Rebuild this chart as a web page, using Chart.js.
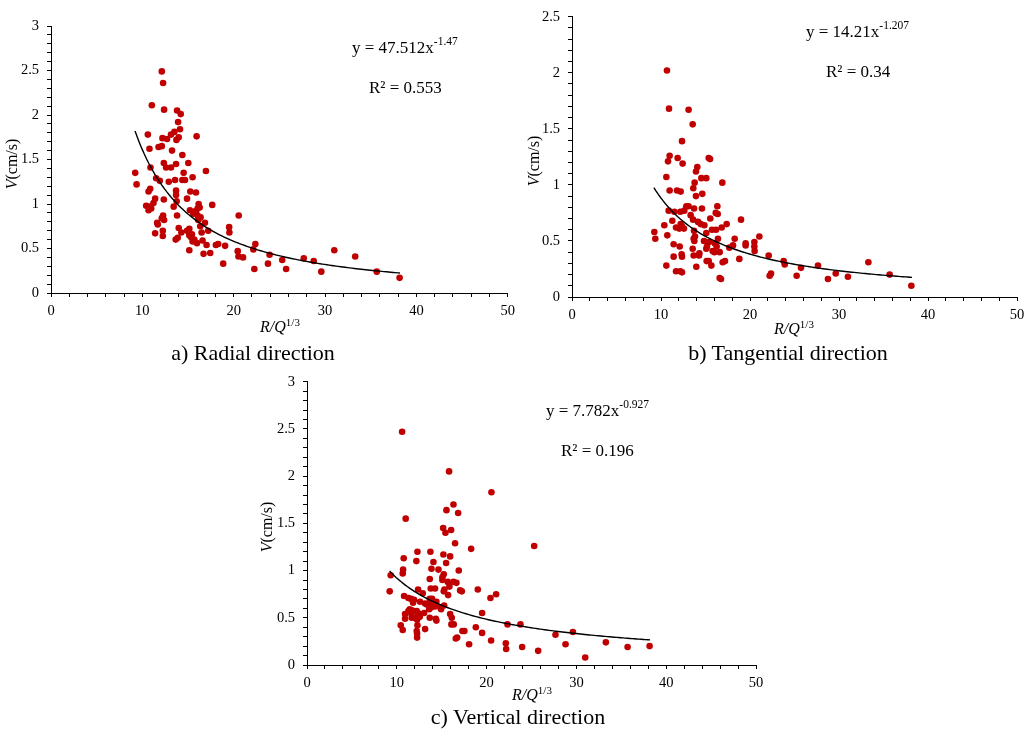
<!DOCTYPE html>
<html>
<head>
<meta charset="utf-8">
<script src="https://cdn.jsdelivr.net/npm/chart.js@4.4.0/dist/chart.umd.min.js"></script>
<style>
  body { margin: 0; background: #fff; }
  #page { position: relative; width: 1032px; height: 735px; overflow: hidden; font-family: 'Liberation Serif', 'Times New Roman', serif; }
  canvas { position: absolute; }
  .cap { position: absolute; font-size: 22px; line-height: 22px; white-space: nowrap; transform: translateX(-50%); color: #000; }
</style>
</head>
<body>
<div id="page">
  <canvas id="radial" width="520" height="345" style="left:0;top:0"></canvas>
  <canvas id="tangential" width="512" height="345" style="left:520px;top:0"></canvas>
  <canvas id="vertical" width="520" height="370" style="left:250px;top:365px"></canvas>
  <div class="cap" style="left:253px;top:342px">a) Radial direction</div>
  <div class="cap" style="left:788px;top:342px">b) Tangential direction</div>
  <div class="cap" style="left:518px;top:706px">c) Vertical direction</div>
</div>
<script>
// measured points [R/Q^1/3, V] for each direction
const radialPoints = [
  [9.22,1.35],[9.37,1.22],[10.6,1.78],[10.42,0.98],[10.68,0.93],[10.78,0.97],[10.97,0.95],[10.68,1.14],
  [10.86,1.17],[10.78,1.62],[10.89,1.41],[11.04,2.11],[11.22,1.01],[11.4,1.06],[11.4,0.67],[11.62,0.79],
  [11.69,0.77],[11.51,1.29],[11.77,1.64],[11.91,1.26],[12.13,1.65],[12.13,2.49],[12.27,2.36],[12.38,2.06],
  [12.2,1.74],[12.35,1.46],[12.35,1.05],[12.27,0.87],[12.13,0.84],[12.38,0.82],[12.24,0.7],[12.24,0.64],
  [12.6,1.41],[12.71,1.73],[12.89,1.25],[13.14,1.78],[13.14,1.41],[13.25,1.6],[13.43,0.97],[13.51,1.81],
  [13.58,1.27],[13.65,0.6],[13.69,1.45],[13.69,1.15],[13.69,1.1],[13.73,1.72],[13.8,2.05],[13.76,1.03],
  [13.8,0.87],[13.87,0.62],[13.91,1.92],[13.98,1.75],[13.98,0.73],[14.12,1.84],[14.2,2.01],[14.27,0.68],
  [14.38,1.55],[14.38,1.27],[14.52,1.35],[14.67,1.27],[14.89,1.06],[14.89,0.7],[15.03,1.46],[15.14,0.72],
  [15.14,0.48],[15.21,0.93],[15.25,1.14],[15.32,0.63],[15.43,0.66],[15.5,1.3],[15.58,0.89],[15.69,0.6],
  [15.83,0.92],[15.87,1.13],[15.94,1.76],[15.98,0.56],[16.05,0.87],[16.12,0.82],[16.16,1.0],[16.27,0.96],
  [16.34,0.75],[16.38,0.85],[16.49,0.68],[16.59,0.59],[16.7,0.44],[16.85,0.79],[16.96,1.37],[17.03,0.54],
  [17.21,0.7],[17.43,0.45],[17.65,0.99],[18.05,0.54],[18.3,0.55],[18.85,0.33],[19.06,0.53],[19.5,0.74],
  [19.53,0.68],[20.44,0.47],[20.52,0.41],[20.55,0.87],[21.02,0.4],[22.15,0.49],[22.26,0.27],[22.37,0.55],
  [23.75,0.33],[23.93,0.43],[25.31,0.37],[25.74,0.27],[27.67,0.39],[28.76,0.36],[29.59,0.24],[31.01,0.48],
  [33.3,0.41],[35.66,0.24],[38.16,0.17],[15.5,0.58],[15.14,0.65],[15.87,0.91],[16.05,0.95]
];
const tangentialPoints = [
  [10.67,2.02],[10.9,1.68],[13.1,1.67],[13.56,1.54],[12.36,1.39],[10.97,1.26],[10.79,1.21],[11.87,1.24],
  [12.43,1.19],[15.36,1.24],[15.51,1.23],[14.08,1.16],[13.93,1.12],[10.6,1.07],[14.53,1.06],[15.09,1.06],
  [13.78,1.02],[16.89,1.02],[13.63,0.97],[10.97,0.95],[11.8,0.95],[12.21,0.94],[13.93,0.9],[14.64,0.92],
  [12.85,0.81],[13.1,0.81],[16.33,0.81],[14.6,0.79],[13.71,0.79],[12.62,0.77],[10.86,0.77],[11.5,0.76],
  [12.17,0.76],[16.15,0.75],[16.37,0.74],[13.33,0.73],[15.54,0.7],[13.6,0.69],[18.99,0.69],[14.16,0.67],
  [11.27,0.68],[14.46,0.65],[17.38,0.65],[12.21,0.65],[10.37,0.64],[12.36,0.63],[14.87,0.64],[11.69,0.62],
  [12.06,0.61],[12.58,0.61],[16.82,0.62],[13.71,0.59],[15.73,0.6],[16.18,0.6],[15.09,0.57],[10.71,0.55],
  [13.82,0.54],[21.05,0.54],[16.4,0.52],[13.67,0.52],[18.28,0.52],[9.36,0.52],[9.25,0.58],[14.83,0.5],
  [13.75,0.5],[15.39,0.49],[20.49,0.49],[19.51,0.48],[19.51,0.46],[16.03,0.48],[11.42,0.47],[15.17,0.45],
  [18.09,0.46],[12.1,0.45],[20.49,0.45],[15.09,0.43],[16.25,0.45],[13.56,0.43],[17.68,0.44],[20.52,0.41],
  [15.8,0.41],[15.99,0.4],[16.59,0.4],[14.31,0.39],[12.32,0.38],[22.1,0.37],[11.42,0.36],[13.67,0.37],
  [14.27,0.37],[12.36,0.36],[18.8,0.34],[17.19,0.32],[16.93,0.31],[15.13,0.32],[15.36,0.32],[23.78,0.32],
  [23.9,0.29],[10.6,0.28],[15.66,0.28],[13.97,0.27],[27.64,0.28],[33.3,0.31],[25.73,0.26],[11.69,0.23],
  [12.17,0.23],[12.36,0.22],[22.36,0.21],[22.21,0.19],[25.24,0.19],[29.63,0.21],[31.0,0.18],[35.69,0.2],
  [28.76,0.16],[16.59,0.17],[16.74,0.16],[38.13,0.1]
];
const verticalPoints = [
  [10.59,2.47],[15.82,2.05],[20.54,1.83],[16.31,1.7],[15.53,1.64],[16.83,1.61],[10.99,1.55],[15.16,1.45],
  [16.05,1.43],[15.42,1.4],[16.49,1.29],[25.3,1.26],[18.28,1.23],[12.3,1.2],[13.74,1.2],[15.19,1.17],
  [15.94,1.15],[10.77,1.13],[12.18,1.1],[14.08,1.09],[15.49,1.08],[13.86,1.02],[14.64,1.01],[10.7,1.01],
  [16.9,1.0],[10.66,0.97],[9.32,0.95],[15.23,0.96],[15.08,0.93],[13.67,0.91],[15.08,0.9],[16.31,0.88],
  [15.68,0.88],[16.64,0.87],[15.86,0.83],[13.78,0.81],[14.26,0.81],[12.37,0.8],[15.3,0.8],[19.02,0.8],
  [15.23,0.78],[17.05,0.79],[17.24,0.78],[9.21,0.78],[21.06,0.75],[15.71,0.74],[20.43,0.71],[10.81,0.73],
  [12.89,0.76],[11.29,0.71],[11.59,0.7],[11.92,0.69],[11.81,0.66],[12.59,0.67],[13.67,0.7],[13.93,0.7],
  [14.41,0.67],[13.15,0.65],[13.34,0.64],[13.56,0.64],[14.04,0.64],[14.26,0.62],[13.82,0.61],[14.86,0.61],
  [15.27,0.63],[14.93,0.59],[13.6,0.59],[11.44,0.59],[11.29,0.57],[11.7,0.58],[12.22,0.57],[10.92,0.54],
  [11.63,0.54],[13.04,0.55],[12.37,0.55],[15.94,0.54],[19.5,0.55],[11.66,0.5],[12.0,0.5],[12.56,0.51],
  [10.92,0.49],[13.67,0.5],[12.26,0.48],[14.34,0.49],[14.41,0.47],[16.12,0.5],[10.44,0.42],[10.66,0.37],
  [12.3,0.42],[16.08,0.43],[16.34,0.43],[13.15,0.38],[12.22,0.36],[12.26,0.33],[12.26,0.29],[17.31,0.36],
  [17.53,0.36],[18.8,0.4],[16.72,0.29],[16.57,0.28],[19.5,0.34],[18.05,0.22],[20.5,0.26],[22.33,0.43],
  [23.77,0.43],[22.14,0.23],[22.18,0.17],[23.96,0.19],[25.74,0.15],[27.67,0.32],[28.79,0.22],[29.61,0.35],
  [30.98,0.08],[33.28,0.24],[35.7,0.19],[38.15,0.2]
];

// power-law trendlines y = a * x^b as printed on the charts
const radialFit = [47.512, -1.47];
const tangentialFit = [14.21, -1.207];
const verticalFit = [7.782, -0.927];
const fitRange = [9.2, 38.2];

const serif = "'Liberation Serif', 'Times New Roman', serif";

function fitCurve(fit) {
  const pts = [];
  for (let x = fitRange[0]; x <= fitRange[1] + 1e-9; x += 0.25) {
    pts.push({x: x, y: fit[0] * Math.pow(x, fit[1])});
  }
  return pts;
}

// draws a run of text pieces (used for superscripts / italics)
function richText(ctx, parts, x, y, align) {
  let w = 0;
  parts.forEach(p => { ctx.font = p.font; w += ctx.measureText(p.t).width; });
  let cx = align === 'center' ? x - w / 2 : x;
  parts.forEach(p => {
    ctx.font = p.font;
    ctx.fillText(p.t, cx, y + (p.dy || 0));
    cx += ctx.measureText(p.t).width;
  });
}

const labelsPlugin = {
  id: 'labels',
  afterDraw(chart, args, opts) {
    const ctx = chart.ctx;
    ctx.save();
    ctx.fillStyle = '#000';
    ctx.textBaseline = 'alphabetic';
    ctx.textAlign = 'left';
    richText(ctx, [{t: 'y = ' + opts.eq[0] + 'x', font: '17px ' + serif}, {t: opts.eq[1], font: '11.5px ' + serif, dy: -8}], opts.eqPos[0], opts.eqPos[1], 'left');
    richText(ctx, [{t: 'R² = ' + opts.r2, font: '17px ' + serif}], opts.r2Pos[0], opts.r2Pos[1], 'left');
    richText(ctx, [{t: 'R/Q', font: 'italic 16px ' + serif}, {t: '1/3', font: '11px ' + serif, dy: -6}], opts.xTitle[0], opts.xTitle[1], 'center');
    ctx.translate(opts.yTitle[0], opts.yTitle[1]);
    ctx.rotate(-Math.PI / 2);
    richText(ctx, [{t: 'V', font: 'italic 16px ' + serif}, {t: '(cm/s)', font: '16px ' + serif}], 0, 5, 'center');
    ctx.restore();
  }
};

function makeChart(id, points, fit, yMax, box, text) {
  const tickFont = {family: serif, size: 14.5};
  return new Chart(document.getElementById(id), {
    type: 'scatter',
    data: {
      datasets: [
        {
          type: 'line',
          data: fitCurve(fit),
          borderColor: '#000',
          borderWidth: 1.4,
          pointRadius: 0,
          fill: false,
          tension: 0,
          order: 0
        },
        {
          data: points.map(p => ({x: p[0], y: p[1]})),
          backgroundColor: '#c00000',
          borderColor: '#c00000',
          pointRadius: 3.3,
          pointBorderWidth: 0,
          order: 1
        }
      ]
    },
    options: {
      responsive: false,
      animation: false,
      layout: {padding: {left: 0, top: box.top, right: box.right, bottom: 0}},
      plugins: {legend: {display: false}, tooltip: {enabled: false}, labels: text},
      scales: {
        x: {
          type: 'linear', min: 0, max: 50,
          afterFit: s => { s.height = box.xh; },
          ticks: {
            stepSize: 2, autoSkip: false, maxRotation: 0, padding: 5, color: '#000', font: tickFont,
            callback: v => (Math.abs(v % 10) < 1e-9 ? String(v) : '')
          },
          grid: {drawOnChartArea: false, tickLength: 4, tickColor: '#000'},
          border: {color: '#000', width: 1}
        },
        y: {
          type: 'linear', min: 0, max: yMax,
          afterFit: s => { s.width = box.yw; },
          ticks: {
            stepSize: 0.1, autoSkip: false, padding: 8, color: '#000', font: tickFont,
            callback: v => (Math.abs(v * 2 - Math.round(v * 2)) < 1e-9 ? String(v) : '')
          },
          grid: {drawOnChartArea: false, tickLength: 4, tickColor: '#000'},
          border: {color: '#000', width: 1}
        }
      }
    },
    plugins: [labelsPlugin]
  });
}

makeChart('radial', radialPoints, radialFit, 3,
  {top: 26, right: 10, xh: 52, yw: 51},
  {eq: ['47.512', '-1.47'], r2: '0.553', eqPos: [352, 53], r2Pos: [369, 93], xTitle: [280, 332], yTitle: [12, 164]});

makeChart('tangential', tangentialPoints, tangentialFit, 2.5,
  {top: 12, right: 15, xh: 48, yw: 52},
  {eq: ['14.21', '-1.207'], r2: '0.34', eqPos: [286, 37], r2Pos: [306, 77], xTitle: [274, 334], yTitle: [14, 161]});

makeChart('vertical', verticalPoints, verticalFit, 3,
  {top: 14, right: 14, xh: 70, yw: 57},
  {eq: ['7.782', '-0.927'], r2: '0.196', eqPos: [296, 51], r2Pos: [311, 91], xTitle: [282, 335], yTitle: [17, 162]});
</script>
</body>
</html>
